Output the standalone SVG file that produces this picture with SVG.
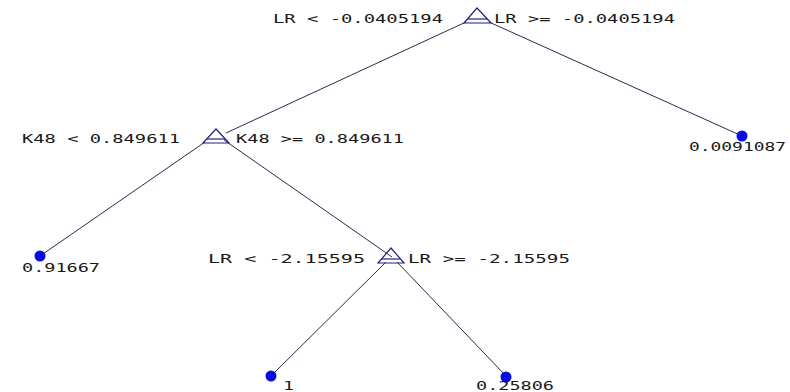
<svg xmlns="http://www.w3.org/2000/svg" width="790" height="392" viewBox="0 0 790 392">
<style>
.edge{stroke:#2a2a50;stroke-width:1;fill:none}
.split{stroke:#23237a;stroke-width:1.2;fill:none}
.leaf{fill:#0a0ae6}
text{font-family:"DejaVu Sans Mono","Liberation Mono",monospace;font-size:13px;fill:#1a1a1a}
</style>
<rect width="790" height="392" fill="#fff"/>
<g id="connectors">
<line class="edge" x1="466" y1="22" x2="226" y2="133"/>
<line class="edge" x1="489" y1="22" x2="742" y2="136"/>
<line class="edge" x1="205" y1="142" x2="40" y2="256"/>
<line class="edge" x1="224" y1="140" x2="392" y2="257"/>
<line class="edge" x1="386" y1="262" x2="271" y2="376"/>
<line class="edge" x1="397" y1="262" x2="506" y2="376"/>
</g>
<g id="root">
<polygon class="split" points="477,8 464,23 491,23"/>
<line class="split" x1="468" y1="19" x2="487" y2="19"/>
<text x="273" y="23" textLength="170" lengthAdjust="spacingAndGlyphs">LR &lt; -0.0405194</text>
<text x="494" y="23" textLength="181" lengthAdjust="spacingAndGlyphs">LR &gt;= -0.0405194</text>
</g>
<g id="k48">
<polygon class="split" points="216,129 203,143 229,143"/>
<line class="split" x1="207" y1="139" x2="225" y2="139"/>
<text x="22" y="143" textLength="158" lengthAdjust="spacingAndGlyphs">K48 &lt; 0.849611</text>
<text x="236" y="143" textLength="168" lengthAdjust="spacingAndGlyphs">K48 &gt;= 0.849611</text>
</g>
<g id="lr2">
<polygon class="split" points="391,248 378,263 404,263"/>
<line class="split" x1="382" y1="259" x2="400" y2="259"/>
<text x="208" y="263" textLength="157" lengthAdjust="spacingAndGlyphs">LR &lt; -2.15595</text>
<text x="408" y="263" textLength="162" lengthAdjust="spacingAndGlyphs">LR &gt;= -2.15595</text>
</g>
<g id="leaf1">
<circle class="leaf" cx="40" cy="256" r="5.5"/>
<text x="22" y="272" textLength="78" lengthAdjust="spacingAndGlyphs">0.91667</text>
</g>
<g id="leaf2">
<circle class="leaf" cx="742" cy="136" r="5.5"/>
<text x="689" y="151" textLength="97" lengthAdjust="spacingAndGlyphs">0.0091087</text>
</g>
<g id="leaf3">
<circle class="leaf" cx="271" cy="376" r="5.5"/>
<text x="283" y="390" textLength="11" lengthAdjust="spacingAndGlyphs">1</text>
</g>
<g id="leaf4">
<circle class="leaf" cx="506" cy="377" r="5.5"/>
<text x="476" y="390" textLength="78" lengthAdjust="spacingAndGlyphs">0.25806</text>
</g>
</svg>
